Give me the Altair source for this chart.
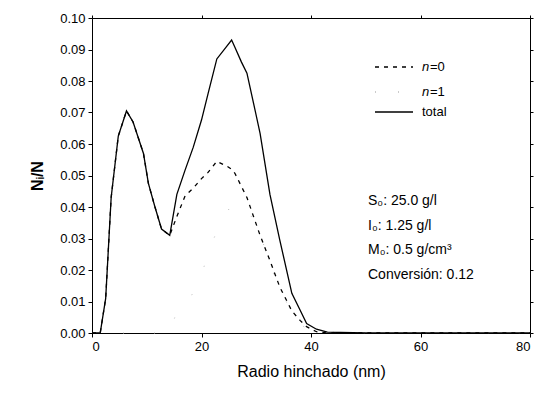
import altair as alt
import pandas as pd

# Radio hinchado (nm)
radio = [0, 1.5, 2.5, 3.5, 4.8, 6.3, 7.5, 9.4, 10.3, 11.5, 12.7, 14.2, 15.5, 17.0, 18.5, 20.0,
         21.2, 22.8, 24.6, 25.5, 26.1, 27.3, 28.3, 29.5, 30.7, 32.5, 34.3, 36.5, 38.0, 39.2,
         41.0, 43.0, 50, 60, 70, 80]
total = [0, 0, 0.011, 0.043, 0.0625, 0.0705, 0.067, 0.057, 0.0475, 0.040, 0.033, 0.031, 0.044,
         0.0517, 0.059, 0.0676, 0.076, 0.087, 0.091, 0.093, 0.0907, 0.086, 0.0825, 0.073, 0.0634,
         0.044, 0.0295, 0.0126, 0.0073, 0.003, 0.0012, 0.0003, 0, 0, 0, 0]
n0 = [0, 0, 0.011, 0.043, 0.0625, 0.0705, 0.067, 0.057, 0.0475, 0.040, 0.033, 0.031, 0.037,
      0.0435, 0.046, 0.049, 0.051, 0.0545, 0.053, 0.052, 0.0507, 0.0465, 0.043, 0.037, 0.031,
      0.023, 0.0146, 0.007, 0.004, 0.002, 0.0004, 0, 0, 0, 0, 0]
n1 = [0, 0, 0, 0, 0, 0, 0, 0, 0, 0, 0, 0, 0.007, 0.008, 0.013, 0.0186, 0.025, 0.0325, 0.038,
      0.041, 0.040, 0.0395, 0.039, 0.036, 0.032, 0.021, 0.015, 0.0056, 0.0033, 0.001, 0.0008,
      0.0003, 0, 0, 0, 0]

x_ticks = [0, 20, 40, 60, 80]
y_ticks = [0.00, 0.01, 0.02, 0.03, 0.04, 0.05, 0.06, 0.07, 0.08, 0.09, 0.10]

annot = ["S\u2080: 25.0 g/l", "I\u2080: 1.25 g/l", "M\u2080: 0.5 g/cm\u00b3", "Conversi\u00f3n: 0.12"]

df = pd.DataFrame({"x": radio, "total": total, "n0": n0, "n1": n1})
one = pd.DataFrame({"k": [0]})

FONT = "Liberation Sans"
W, H = 438, 315

xs = alt.Scale(domain=[0, 80], nice=False)
ys = alt.Scale(domain=[0, 0.10], nice=False)

x_axis = alt.Axis(values=x_ticks, format="d", title="Radio hinchado (nm)", grid=False,
                  domainColor="black", tickColor="black", tickSize=4, labelFontSize=13,
                  labelColor="black", labelFont=FONT, labelPadding=3, titleFont=FONT,
                  titleFontSize=16, titleFontWeight="normal", titleColor="black", titlePadding=10,
                  labelOverlap=False)
y_axis = alt.Axis(values=y_ticks, format=".2f", title="N\u1d62/N", grid=False,
                  domainColor="black", tickColor="black", tickSize=4, labelFontSize=13,
                  labelColor="black", labelFont=FONT, labelPadding=3, titleFont=FONT,
                  titleFontSize=16, titleFontWeight="bold", titleColor="black", titlePadding=14,
                  labelOverlap=False)

base = alt.Chart(df)

def series_line(col, **props):
    return base.mark_line(**props).encode(
        x=alt.X("x:Q", scale=xs, axis=x_axis),
        y=alt.Y(f"{col}:Q", scale=ys, axis=y_axis),
    )

line_n1 = series_line("n1", color="#bbbbbb", strokeWidth=1, strokeDash=[1, 30])
line_n0 = series_line("n0", color="black", strokeWidth=1.3, strokeDash=[4, 5])
line_tot = series_line("total", color="black", strokeWidth=1.3)

main = alt.layer(line_n1, line_n0, line_tot)

mirror = base.mark_point(opacity=0).encode(
    x=alt.X("x:Q", scale=xs, axis=alt.Axis(orient="top", values=x_ticks, labels=False, title=None,
                                            grid=False, domainColor="black", tickColor="black", tickSize=3)),
    y=alt.Y("total:Q", scale=ys, axis=alt.Axis(orient="right", values=y_ticks, labels=False, title=None,
                                                grid=False, domainColor="black", tickColor="black", tickSize=3)),
)

# legend (manual)
leg_rows = [(49, [4, 5], "black", "0"), (74, [1, 22], "#bbbbbb", "1"), (94, [], "black", None)]
legend_layers = []
for yy, dash, col, num in leg_rows:
    props = dict(color=col, strokeWidth=1.3)
    if dash:
        props["strokeDash"] = dash
    legend_layers.append(alt.Chart(one).mark_rule(**props).encode(
        x=alt.value(283), x2=alt.value(321), y=alt.value(yy)))
    if num is not None:
        legend_layers.append(alt.Chart(one).mark_text(align="left", baseline="middle", font=FONT,
                                                      fontSize=13, fontStyle="italic", color="black").encode(
            x=alt.value(330), y=alt.value(yy), text=alt.value("n")))
        legend_layers.append(alt.Chart(one).mark_text(align="left", baseline="middle", font=FONT,
                                                      fontSize=13, color="black").encode(
            x=alt.value(338), y=alt.value(yy), text=alt.value("=" + num)))
    else:
        legend_layers.append(alt.Chart(one).mark_text(align="left", baseline="middle", font=FONT,
                                                      fontSize=13, color="black").encode(
            x=alt.value(330), y=alt.value(yy), text=alt.value("total")))

annot_layers = []
for i, t in enumerate(annot):
    annot_layers.append(alt.Chart(one).mark_text(align="left", baseline="middle", font=FONT,
                                                 fontSize=14, color="black").encode(
        x=alt.value(276), y=alt.value(183 + 24.5 * i), text=alt.value(t)))

chart = alt.layer(main, mirror, *legend_layers, *annot_layers).resolve_axis(
    x="independent", y="independent"
).properties(
    width=W, height=H,
    autosize=alt.AutoSizeParams(type="none"),
    padding={"left": 84, "top": 10, "right": 4, "bottom": 60},
).configure_view(stroke=None).configure(background="white")

chart.save("out.html", embed_options={"renderer": "svg", "actions": False})
